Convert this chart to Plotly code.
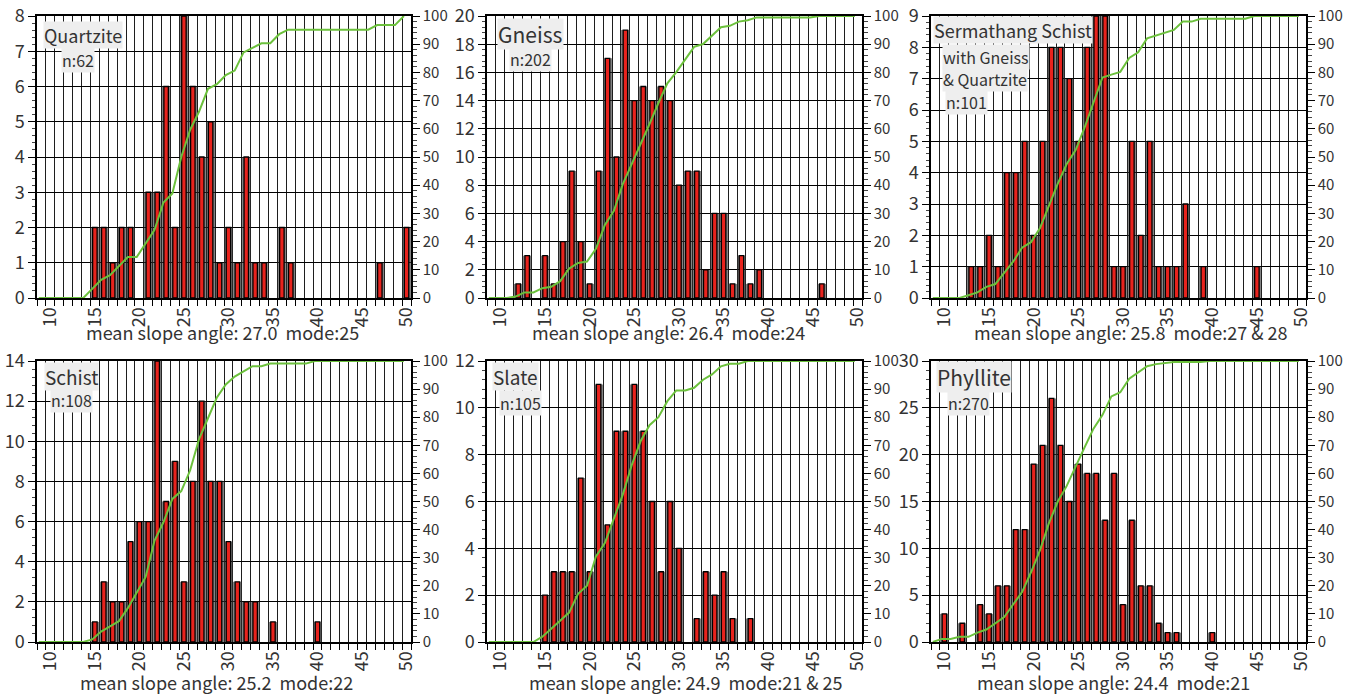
import plotly.graph_objects as go

# ---------------- data ----------------
bins = list(range(9, 51))          # slope-angle classes shown on every x axis

quartzite_angles = [15, 16, 17, 18, 19, 21, 22, 23, 24, 25, 26, 27, 28, 29, 30, 31, 32, 33, 34, 36, 37, 47, 50]
quartzite_counts = [2, 2, 1, 2, 2, 3, 3, 6, 2, 8, 6, 4, 5, 1, 2, 1, 4, 1, 1, 2, 1, 1, 2]

gneiss_angles = [12, 13, 15, 16, 17, 18, 19, 20, 21, 22, 23, 24, 25, 26, 27, 28, 29, 30, 31, 32, 33, 34, 35, 36, 37, 38, 39, 46]
gneiss_counts = [1, 3, 3, 1, 4, 9, 4, 1, 9, 17, 10, 19, 14, 15, 14, 15, 14, 8, 9, 9, 2, 6, 6, 1, 3, 1, 2, 1]

sermathang_angles = [13, 14, 15, 16, 17, 18, 19, 20, 21, 22, 23, 24, 25, 26, 27, 28, 29, 30, 31, 32, 33, 34, 35, 36, 37, 39, 45]
sermathang_counts = [1, 1, 2, 1, 4, 4, 5, 2, 5, 8, 8, 7, 5, 8, 9, 9, 1, 1, 5, 2, 5, 1, 1, 1, 3, 1, 1]

schist_angles = [15, 16, 17, 18, 19, 20, 21, 22, 23, 24, 25, 26, 27, 28, 29, 30, 31, 32, 33, 35, 40]
schist_counts = [1, 3, 2, 2, 5, 6, 6, 14, 7, 9, 3, 8, 12, 8, 8, 5, 3, 2, 2, 1, 1]

slate_angles = [15, 16, 17, 18, 19, 20, 21, 22, 23, 24, 25, 26, 27, 28, 29, 30, 32, 33, 34, 35, 36, 38]
slate_counts = [2, 3, 3, 3, 7, 3, 11, 5, 9, 9, 11, 9, 6, 3, 6, 4, 1, 3, 2, 3, 1, 1]

phyllite_angles = [10, 12, 14, 15, 16, 17, 18, 19, 20, 21, 22, 23, 24, 25, 26, 27, 28, 29, 30, 31, 32, 33, 34, 35, 36, 40]
phyllite_counts = [3, 2, 4, 3, 6, 6, 12, 12, 19, 21, 26, 21, 15, 19, 18, 18, 13, 18, 4, 13, 6, 6, 2, 1, 1, 1]

panel_titles = ["Quartzite", "Gneiss", "Sermathang Schist", "Schist", "Slate", "Phyllite"]
panel_subtitle = ["with Gneiss", "& Quartzite"]
panel_n = ["n:62", "n:202", "n:101", "n:108", "n:105", "n:270"]
panel_captions = [
    "mean slope angle: 27.0  mode:25",
    "mean slope angle: 26.4  mode:24",
    "mean slope angle: 25.8  mode:27 & 28",
    "mean slope angle: 25.2  mode:22",
    "mean slope angle: 24.9  mode:21 & 25",
    "mean slope angle: 24.4  mode:21",
]
count_max = [8, 20, 9, 14, 12, 30]
count_step = [1, 2, 1, 2, 2, 5]
x_ticks = [10, 15, 20, 25, 30, 35, 40, 45, 50]

series = [
    (quartzite_angles, quartzite_counts),
    (gneiss_angles, gneiss_counts),
    (sermathang_angles, sermathang_counts),
    (schist_angles, schist_counts),
    (slate_angles, slate_counts),
    (phyllite_angles, phyllite_counts),
]

# ---------------- layout helpers ----------------
W, H = 1353, 694
FONT = "Noto Sans CJK JP"
TXT = "#333333"
col_px = [(37, 411), (487, 862), (931, 1306)]
row_px = [(16, 298), (361, 642)]
LINE_SHIFT = -0.3

def px_x(v):
    return v / W

def px_y(v):
    return 1 - v / H

fig = go.Figure()
layout = dict(
    width=W, height=H,
    margin=dict(l=0, r=0, t=0, b=0, pad=0, autoexpand=False),
    paper_bgcolor="white", plot_bgcolor="white",
    barmode="overlay", showlegend=False,
    font=dict(family=FONT, color=TXT),
)

for i, (angles, counts) in enumerate(series):
    k = i + 1
    r, c = divmod(i, 3)
    xa, ya, ya2 = f"x{k}", f"y{k}", f"y{k + 6}"
    # cumulative percentage over all bins
    lookup = dict(zip(angles, counts))
    total = sum(counts)
    run = 0
    cum = []
    for b in bins:
        run += lookup.get(b, 0)
        cum.append(100.0 * run / total)

    fig.add_trace(go.Bar(x=angles, y=counts, width=1.0, xaxis=xa, yaxis=ya,
                         marker=dict(color="rgba(50,50,50,0.6)", line=dict(width=0)),
                         hoverinfo="skip"))
    fig.add_trace(go.Bar(x=angles, y=counts, width=0.5, xaxis=xa, yaxis=ya,
                         marker=dict(color="#e8231d", line=dict(color="black", width=1.3))))
    fig.add_trace(go.Scatter(x=[b + LINE_SHIFT for b in bins], y=cum, xaxis=xa, yaxis=ya2,
                             mode="lines", line=dict(color="#6cc13c", width=2)))

    x0, x1 = col_px[c]
    t0, t1 = row_px[r]
    axis_suffix = "" if k == 1 else str(k)
    layout["xaxis" + axis_suffix] = dict(
        domain=[px_x(x0), px_x(x1)], anchor=ya, range=[8.5, 50.5], automargin=False,
        tickmode="array", tickvals=x_ticks, ticks="", tickangle=-90,
        tickfont=dict(size=18, color=TXT, family=FONT), ticklabeloverflow="allow",
        showgrid=False, zeroline=False,
        showline=True, mirror=True, linecolor="black", linewidth=2,
        minor=dict(tickmode="linear", tick0=8.5, dtick=1, ticks="outside", ticklen=6,
                   tickcolor="black", tickwidth=1, showgrid=True, gridcolor="#1e1e1e", gridwidth=1),
    )
    layout["yaxis" + axis_suffix] = dict(
        domain=[px_y(t1), px_y(t0)], anchor=xa, range=[0, count_max[i]], automargin=False,
        tickmode="linear", tick0=0, dtick=count_step[i],
        ticks="outside", ticklen=7, tickcolor="black", tickwidth=1.3,
        tickfont=dict(size=18, color=TXT, family=FONT), ticklabeloverflow="allow",
        showgrid=True, gridcolor="black", gridwidth=1.3, zeroline=False,
        showline=True, linecolor="black", linewidth=1.5,
        minor=dict(tickmode="linear", dtick=count_step[i] / 5, ticks="outside", ticklen=3,
                   tickcolor="#444", tickwidth=1, showgrid=False),
    )
    layout[f"yaxis{k + 6}"] = dict(
        overlaying=ya, side="right", anchor=xa, range=[0, 100], automargin=False,
        tickmode="linear", tick0=0, dtick=10,
        ticks="outside", ticklen=7, tickcolor="black", tickwidth=1.3,
        tickfont=dict(size=15, color=TXT, family=FONT), ticklabeloverflow="allow",
        showgrid=False, zeroline=False,
        showline=True, linecolor="black", linewidth=1.5,
        minor=dict(tickmode="linear", dtick=2, ticks="outside", ticklen=4,
                   tickcolor="#444", tickwidth=1, showgrid=False),
    )

# ---------------- labels ----------------
annotations = []

def label(text, left, top, size):
    annotations.append(dict(text=text, xref="paper", yref="paper", align="left",
                            x=px_x(left), y=px_y(top), xanchor="left", yanchor="top",
                            showarrow=False, bgcolor="#eeeeee", borderpad=0,
                            font=dict(size=size, color=TXT, family=FONT)))

label(panel_titles[0], 43, 21, 18)
label(panel_n[0], 61, 47, 16)
label(panel_titles[1], 497, 18, 21)
label(panel_n[1], 509, 46, 16)
label(panel_titles[2], 933, 16, 18)
label(panel_subtitle[0], 942, 44, 16)
label(panel_subtitle[1], 942, 66, 16)
label(panel_n[2], 945, 89, 16)
label(panel_titles[3], 44, 362, 19)
label(panel_n[3], 50, 387, 16)
label(panel_titles[4], 492, 362, 19)
label(panel_n[4], 499, 390, 16)
label(panel_titles[5], 936, 361, 21)
label(panel_n[5], 947, 390, 16)

caption_px = [(222, 332), (668, 332), (1131, 332), (216, 682), (686, 682), (1113, 682)]
for text, (cx, cy) in zip(panel_captions, caption_px):
    annotations.append(dict(text=text, xref="paper", yref="paper",
                            x=px_x(cx), y=px_y(cy), xanchor="center", yanchor="middle",
                            showarrow=False, font=dict(size=18, color=TXT, family=FONT)))

layout["annotations"] = annotations
fig.update_layout(**layout)
fig.write_html("out.html", config={"displayModeBar": False},
               post_script="document.body.style.margin='0px';")
